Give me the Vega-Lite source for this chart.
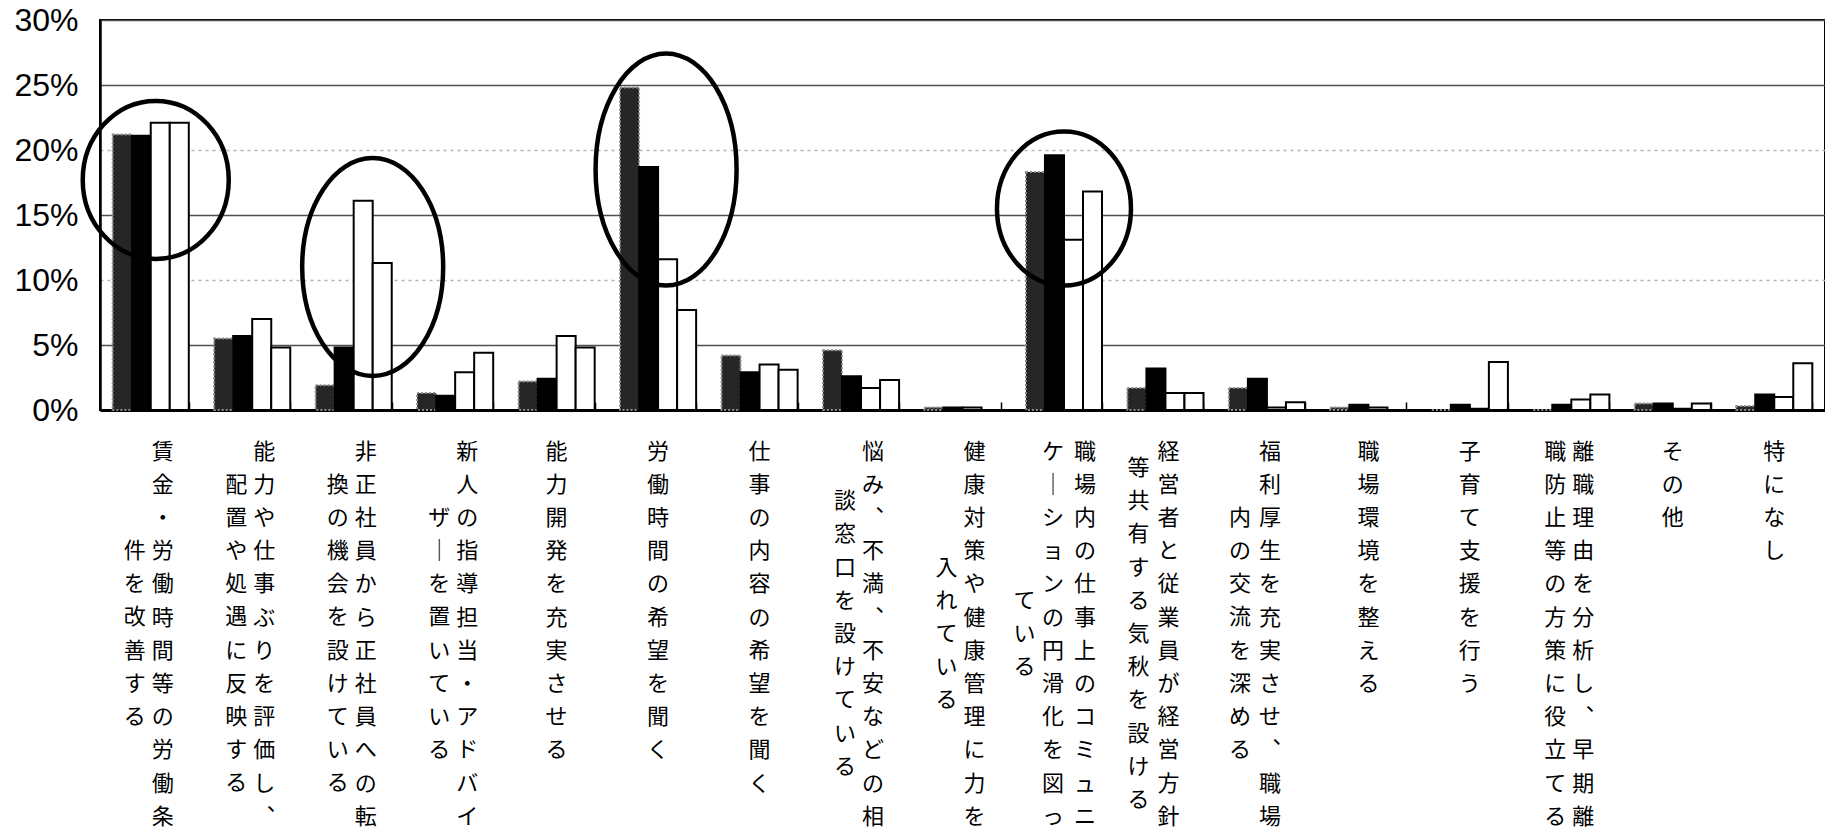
{
  "$schema": "https://vega.github.io/schema/vega-lite/v6.json",
  "autosize": {"type": "none"},
  "width": 1725,
  "height": 390,
  "padding": {"left": 100, "top": 20, "right": 0, "bottom": 420},
  "background": "white",
  "config": {
    "view": {"stroke": "black", "strokeWidth": 2},
    "font": "Noto Sans CJK JP"
  },
  "datasets": {
    "bars": [
      {"item": "賃金・労働時間等の労働条件を改善する", "series": "系列1", "pct": 21.2},
      {"item": "賃金・労働時間等の労働条件を改善する", "series": "系列2", "pct": 21.1},
      {"item": "賃金・労働時間等の労働条件を改善する", "series": "系列3", "pct": 22.1},
      {"item": "賃金・労働時間等の労働条件を改善する", "series": "系列4", "pct": 22.1},
      {"item": "能力や仕事ぶりを評価し、配置や処遇に反映する", "series": "系列1", "pct": 5.5},
      {"item": "能力や仕事ぶりを評価し、配置や処遇に反映する", "series": "系列2", "pct": 5.7},
      {"item": "能力や仕事ぶりを評価し、配置や処遇に反映する", "series": "系列3", "pct": 7.0},
      {"item": "能力や仕事ぶりを評価し、配置や処遇に反映する", "series": "系列4", "pct": 4.8},
      {"item": "非正社員から正社員への転換の機会を設けている", "series": "系列1", "pct": 1.9},
      {"item": "非正社員から正社員への転換の機会を設けている", "series": "系列2", "pct": 4.8},
      {"item": "非正社員から正社員への転換の機会を設けている", "series": "系列3", "pct": 16.1},
      {"item": "非正社員から正社員への転換の機会を設けている", "series": "系列4", "pct": 11.3},
      {"item": "新人の指導担当・アドバイザーを置いている", "series": "系列1", "pct": 1.3},
      {"item": "新人の指導担当・アドバイザーを置いている", "series": "系列2", "pct": 1.1},
      {"item": "新人の指導担当・アドバイザーを置いている", "series": "系列3", "pct": 2.9},
      {"item": "新人の指導担当・アドバイザーを置いている", "series": "系列4", "pct": 4.4},
      {"item": "能力開発を充実させる", "series": "系列1", "pct": 2.2},
      {"item": "能力開発を充実させる", "series": "系列2", "pct": 2.4},
      {"item": "能力開発を充実させる", "series": "系列3", "pct": 5.7},
      {"item": "能力開発を充実させる", "series": "系列4", "pct": 4.8},
      {"item": "労働時間の希望を聞く", "series": "系列1", "pct": 24.8},
      {"item": "労働時間の希望を聞く", "series": "系列2", "pct": 18.7},
      {"item": "労働時間の希望を聞く", "series": "系列3", "pct": 11.6},
      {"item": "労働時間の希望を聞く", "series": "系列4", "pct": 7.7},
      {"item": "仕事の内容の希望を聞く", "series": "系列1", "pct": 4.2},
      {"item": "仕事の内容の希望を聞く", "series": "系列2", "pct": 2.9},
      {"item": "仕事の内容の希望を聞く", "series": "系列3", "pct": 3.5},
      {"item": "仕事の内容の希望を聞く", "series": "系列4", "pct": 3.1},
      {"item": "悩み、不満、不安などの相談窓口を設けている", "series": "系列1", "pct": 4.6},
      {"item": "悩み、不満、不安などの相談窓口を設けている", "series": "系列2", "pct": 2.6},
      {"item": "悩み、不満、不安などの相談窓口を設けている", "series": "系列3", "pct": 1.7},
      {"item": "悩み、不満、不安などの相談窓口を設けている", "series": "系列4", "pct": 2.3},
      {"item": "健康対策や健康管理に力を入れている", "series": "系列1", "pct": 0.2},
      {"item": "健康対策や健康管理に力を入れている", "series": "系列2", "pct": 0.2},
      {"item": "健康対策や健康管理に力を入れている", "series": "系列3", "pct": 0.2},
      {"item": "健康対策や健康管理に力を入れている", "series": "系列4", "pct": 0},
      {"item": "職場内の仕事上のコミュニケーションの円滑化を図っている", "series": "系列1", "pct": 18.3},
      {"item": "職場内の仕事上のコミュニケーションの円滑化を図っている", "series": "系列2", "pct": 19.6},
      {"item": "職場内の仕事上のコミュニケーションの円滑化を図っている", "series": "系列3", "pct": 13.1},
      {"item": "職場内の仕事上のコミュニケーションの円滑化を図っている", "series": "系列4", "pct": 16.8},
      {"item": "経営者と従業員が経営方針等共有する気秋を設ける", "series": "系列1", "pct": 1.7},
      {"item": "経営者と従業員が経営方針等共有する気秋を設ける", "series": "系列2", "pct": 3.2},
      {"item": "経営者と従業員が経営方針等共有する気秋を設ける", "series": "系列3", "pct": 1.3},
      {"item": "経営者と従業員が経営方針等共有する気秋を設ける", "series": "系列4", "pct": 1.3},
      {"item": "福利厚生を充実させ、職場内の交流を深める", "series": "系列1", "pct": 1.7},
      {"item": "福利厚生を充実させ、職場内の交流を深める", "series": "系列2", "pct": 2.4},
      {"item": "福利厚生を充実させ、職場内の交流を深める", "series": "系列3", "pct": 0.2},
      {"item": "福利厚生を充実させ、職場内の交流を深める", "series": "系列4", "pct": 0.6},
      {"item": "職場環境を整える", "series": "系列1", "pct": 0.2},
      {"item": "職場環境を整える", "series": "系列2", "pct": 0.4},
      {"item": "職場環境を整える", "series": "系列3", "pct": 0.2},
      {"item": "職場環境を整える", "series": "系列4", "pct": 0},
      {"item": "子育て支援を行う", "series": "系列1", "pct": 0},
      {"item": "子育て支援を行う", "series": "系列2", "pct": 0.4},
      {"item": "子育て支援を行う", "series": "系列3", "pct": 0.1},
      {"item": "子育て支援を行う", "series": "系列4", "pct": 3.7},
      {"item": "離職理由を分析し、早期離職防止等の方策に役立てる", "series": "系列1", "pct": 0},
      {"item": "離職理由を分析し、早期離職防止等の方策に役立てる", "series": "系列2", "pct": 0.4},
      {"item": "離職理由を分析し、早期離職防止等の方策に役立てる", "series": "系列3", "pct": 0.8},
      {"item": "離職理由を分析し、早期離職防止等の方策に役立てる", "series": "系列4", "pct": 1.2},
      {"item": "その他", "series": "系列1", "pct": 0.5},
      {"item": "その他", "series": "系列2", "pct": 0.5},
      {"item": "その他", "series": "系列3", "pct": 0.1},
      {"item": "その他", "series": "系列4", "pct": 0.5},
      {"item": "特になし", "series": "系列1", "pct": 0.3},
      {"item": "特になし", "series": "系列2", "pct": 1.2},
      {"item": "特になし", "series": "系列3", "pct": 1.0},
      {"item": "特になし", "series": "系列4", "pct": 3.6}
    ],
    "rings": [
      {"item": "賃金・労働時間等の労働条件を改善する", "pct": 17.7, "ring": "E1"},
      {"item": "非正社員から正社員への転換の機会を設けている", "pct": 11.0, "ring": "E2"},
      {"item": "労働時間の希望を聞く", "pct": 18.5, "ring": "E3"},
      {"item": "職場内の仕事上のコミュニケーションの円滑化を図っている", "pct": 15.5, "ring": "E4"}
    ]
  },
  "resolve": {"axis": {"x": "independent"}},
  "layer": [
    {
      "data": {"name": "bars"},
      "mark": {"type": "bar", "strokeWidth": 2},
      "encoding": {
        "x": {
          "field": "item", "type": "nominal", "sort": null,
          "scale": {"paddingInner": 0.25, "paddingOuter": 0.125},
          "axis": {
            "orient": "bottom", "title": null, "grid": false, "ticks": false,
            "domain": true, "domainColor": "black", "domainWidth": 3,
            "labelAngle": 0, "labelAlign": "center", "labelBaseline": "top",
            "labelExpr": "split(replace(replace(replace(substring(datum.label, 0, 12), '、', '︑'), '、', '︑'), 'ー', '｜'), '')",
            "labelFont": "Noto Sans CJK JP", "labelFontSize": 22, "labelLineHeight": 33.2,
            "labelPadding": 31, "labelLimit": 0, "labelOverlap": false, "labelBound": false, "labelFlush": false,
            "labelColor": "black",
            "labelOffset": {"expr": "length(datum.label) > 24 ? 21 : (indexof(datum.label, '経営者') == 0 || indexof(datum.label, '福利') == 0) ? 3 : length(datum.label) > 12 ? 12 : 0"}
          }
        },
        "xOffset": {"field": "series", "type": "nominal", "sort": null, "scale": {"paddingInner": 0, "paddingOuter": 0}},
        "y": {
          "field": "pct", "type": "quantitative",
          "scale": {"domain": [0, 30], "nice": false},
          "axis": {
            "title": null, "values": [0, 5, 10, 15, 20, 25, 30],
            "labelExpr": "datum.value + '%'",
            "labelFont": "Liberation Sans", "labelFontSize": 32, "labelColor": "black",
            "labelPadding": 22, "ticks": false,
            "domainColor": "black", "domainWidth": 2.5,
            "grid": true, "gridWidth": 1.5,
            "gridColor": {"condition": {"test": "datum.value == 10 || datum.value == 20", "value": "#b5b5b5"}, "value": "#505050"},
            "gridDash": {"condition": {"test": "datum.value == 10 || datum.value == 20", "value": [3, 4]}, "value": []}
          }
        },
        "fill": {"field": "series", "type": "nominal", "scale": {"domain": ["系列1", "系列2", "系列3", "系列4"], "range": ["#262626", "#000000", "#ffffff", "#ffffff"]}, "legend": null},
        "stroke": {"field": "series", "type": "nominal", "scale": {"domain": ["系列1", "系列2", "系列3", "系列4"], "range": ["#8c8c8c", "#000000", "#000000", "#000000"]}, "legend": null},
        "strokeDash": {"field": "series", "type": "nominal", "scale": {"domain": ["系列1", "系列2", "系列3", "系列4"], "range": [[2, 2], [1, 0], [1, 0], [1, 0]]}, "legend": null}
      }
    },
    {
      "data": {"name": "bars"},
      "mark": {"type": "point", "opacity": 0},
      "encoding": {
        "x": {
          "field": "item", "type": "nominal", "sort": null,
          "axis": {
            "orient": "bottom", "title": null, "grid": false, "ticks": false, "domain": false,
            "labelAngle": 0, "labelAlign": "center", "labelBaseline": "top",
            "labelExpr": "length(datum.label) > 12 ? split(replace(substring(datum.label, 12, 24), 'ー', '｜'), '') : ''",
            "labelFont": "Noto Sans CJK JP", "labelFontSize": 22, "labelLineHeight": 33.2,
            "labelPadding": {"expr": "31 + (12 - length(substring(datum.label, 12, 24))) * 16.6"},
            "labelLimit": 0, "labelOverlap": false, "labelBound": false, "labelFlush": false,
            "labelColor": "black",
            "labelOffset": {"expr": "length(datum.label) > 24 ? -11 : (indexof(datum.label, '経営者') == 0 || indexof(datum.label, '福利') == 0) ? -27 : -16"}
          }
        },
        "y": {"field": "pct", "type": "quantitative"}
      }
    },
    {
      "data": {"name": "bars"},
      "mark": {"type": "point", "opacity": 0},
      "encoding": {
        "x": {
          "field": "item", "type": "nominal", "sort": null,
          "axis": {
            "orient": "bottom", "title": null, "grid": false, "domain": false,
            "ticks": true, "tickBand": "extent", "tickSize": -8, "tickColor": "black", "tickWidth": 1.5,
            "labelAngle": 0, "labelAlign": "center", "labelBaseline": "top",
            "labelExpr": "length(datum.label) > 24 ? split(substring(datum.label, 24), '') : ''",
            "labelFont": "Noto Sans CJK JP", "labelFontSize": 22, "labelLineHeight": 33.2,
            "labelPadding": {"expr": "39 + (12 - length(substring(datum.label, 24))) * 16.6"},
            "labelLimit": 0, "labelOverlap": false, "labelBound": false, "labelFlush": false,
            "labelColor": "black",
            "labelOffset": -40
          }
        },
        "y": {"field": "pct", "type": "quantitative"}
      }
    },
    {
      "data": {"name": "rings"},
      "mark": {"type": "point", "filled": false, "stroke": "black", "strokeWidth": 4.5, "size": 4, "opacity": 1},
      "encoding": {
        "x": {"field": "item", "type": "nominal", "sort": null, "axis": null},
        "y": {"field": "pct", "type": "quantitative"},
        "shape": {
          "field": "ring", "type": "nominal",
          "scale": {
            "domain": ["E1", "E2", "E3", "E4"],
            "range": [
              "M -68 0 A 73 79 0 1 0 78 0 A 73 79 0 1 0 -68 0 Z",
              "M -51.5 0 A 70.5 109 0 1 0 89.5 0 A 70.5 109 0 1 0 -51.5 0 Z",
              "M -62.5 0 A 70.5 116 0 1 0 78.5 0 A 70.5 116 0 1 0 -62.5 0 Z",
              "M -67 0 A 67 77 0 1 0 67 0 A 67 77 0 1 0 -67 0 Z"
            ]
          },
          "legend": null
        }
      }
    }
  ]
}
